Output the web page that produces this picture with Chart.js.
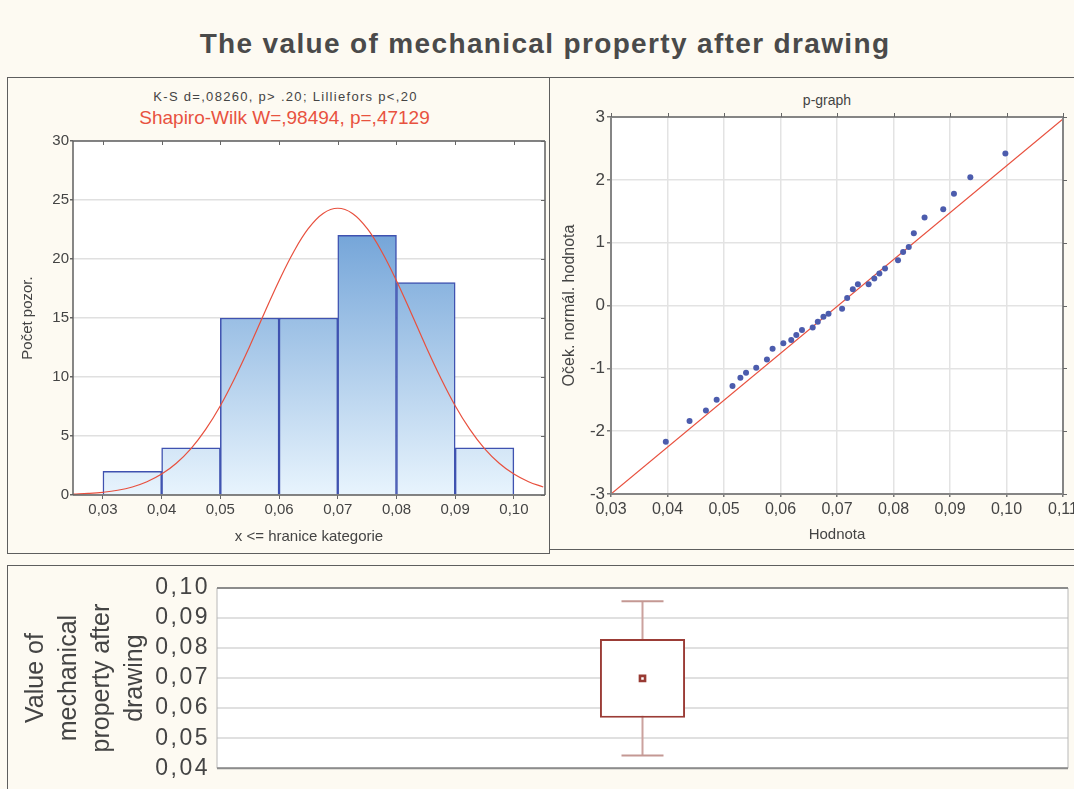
<!DOCTYPE html>
<html>
<head>
<meta charset="utf-8">
<title>The value of mechanical property after drawing</title>
<script src="https://cdn.jsdelivr.net/npm/chart.js@4.4.1/dist/chart.umd.min.js"></script>
<style>
html, body { margin: 0; padding: 0; background: #fdfaf2; }
#page { position: relative; width: 1074px; height: 789px; overflow: hidden; background: #fdfaf2;
        font-family: 'Liberation Sans', Arial, sans-serif; color: #444; }
.panel { position: absolute; border: 1px solid #5e5e5e; box-sizing: border-box; }
canvas { position: absolute; }
.txt { position: absolute; text-align: center; white-space: nowrap; }
</style>
</head>
<body>
<div id="page">
  <div class="txt" style="left:8px;top:28px;width:1074px;font-weight:bold;font-size:28px;line-height:32px;letter-spacing:1.35px;color:#4a4a4a">The value of mechanical property after drawing</div>

  <div class="panel" style="left:7px;top:77px;width:543px;height:477px"></div>
  <div class="panel" style="left:549px;top:77px;width:540px;height:473px"></div>
  <div class="panel" style="left:7px;top:565px;width:1080px;height:240px"></div>

  <div class="txt" style="left:8px;top:89px;width:555px;font-size:13px;line-height:16px;letter-spacing:1.3px;color:#444">K-S d=,08260, p&gt; .20; Lilliefors p&lt;,20</div>
  <div class="txt" style="left:8px;top:107px;width:553px;font-size:19px;line-height:22px;color:#e8523f">Shapiro-Wilk W=,98494, p=,47129</div>
  <div class="txt" style="left:737px;top:92px;width:180px;font-size:14px;line-height:16px;color:#444">p-graph</div>

  <canvas id="hist" width="540" height="474" style="left:8px;top:78px"></canvas>
  <canvas id="pgraph" width="540" height="471" style="left:550px;top:78px"></canvas>
  <canvas id="box" width="1066" height="223" style="left:8px;top:566px"></canvas>
</div>
<script>
// histogram: category bounds and counts
const binEdges = [0.03, 0.04, 0.05, 0.06, 0.07, 0.08, 0.09, 0.10];
const binCounts = [2, 4, 15, 15, 22, 18, 4];

// fitted normal curve
const curveX = [0.025, 0.0275, 0.03, 0.0325, 0.035, 0.0375, 0.04, 0.0425, 0.045, 0.0475,
                0.05, 0.0525, 0.055, 0.0575, 0.06, 0.0625, 0.065, 0.0675, 0.07, 0.0725,
                0.075, 0.0775, 0.08, 0.0825, 0.085, 0.0875, 0.09, 0.0925, 0.095, 0.0975,
                0.10, 0.1025, 0.105];
const curveY = [0.07, 0.13, 0.23, 0.40, 0.68, 1.12, 1.77, 2.69, 3.93, 5.56,
                7.57, 9.96, 12.61, 15.42, 18.16, 20.62, 22.59, 23.86, 24.30, 23.86,
                22.59, 20.62, 18.16, 15.42, 12.61, 9.96, 7.57, 5.56, 3.93, 2.69,
                1.77, 1.12, 0.68];

// p-graph points
const probX = [0.0397, 0.0439, 0.0468, 0.0487, 0.0515, 0.0529, 0.0539, 0.0557, 0.0576, 0.0586,
               0.0605, 0.0619, 0.0628, 0.0638, 0.0657, 0.0666, 0.0676, 0.0685, 0.0709, 0.0718,
               0.0728, 0.0737, 0.0756, 0.0766, 0.0775, 0.0785, 0.0808, 0.0817, 0.0827, 0.0836,
               0.0855, 0.0888, 0.0907, 0.0936, 0.0998];
const probY = [-2.17, -1.84, -1.67, -1.50, -1.28, -1.15, -1.07, -0.99, -0.86, -0.69,
               -0.60, -0.55, -0.47, -0.39, -0.35, -0.26, -0.18, -0.13, -0.05, 0.12,
               0.26, 0.34, 0.34, 0.43, 0.51, 0.59, 0.72, 0.85, 0.93, 1.15,
               1.40, 1.53, 1.78, 2.04, 2.42];
const refLineX = [0.03, 0.11];
const refLineY = [-3.0, 2.97];

// box plot: mean, mean +- SD, mean +- 1.96 SD
const boxLabels = ['Value of mechanical property after drawing'];
const boxMean = [0.0699];
const boxLow = [0.0568];
const boxHigh = [0.0830];
const whiskLow = [0.0442];
const whiskHigh = [0.0956];

Chart.defaults.font.family = "'Liberation Sans', Arial, sans-serif";
Chart.defaults.color = '#444';

const comma = v => Number(v).toFixed(2).replace('.', ',');

// white plot area, frame, mirrored ticks, spaced tick labels
const panelPlugin = {
    id: 'panel',
    beforeDraw(chart, args, opts) {
        const {ctx, chartArea: a} = chart;
        ctx.letterSpacing = '0px';
        ctx.save();
        ctx.fillStyle = '#ffffff';
        ctx.fillRect(a.left, a.top, a.right - a.left, a.bottom - a.top);
        ctx.restore();
    },
    afterDatasetsDraw(chart, args, opts) {
        // tick labels with z > 0 are drawn after this point
        chart.ctx.letterSpacing = opts.spacing || '0px';
    },
    afterDraw(chart, args, opts) {
        const {ctx, chartArea: a} = chart;
        ctx.letterSpacing = '0px';
        ctx.save();
        ctx.strokeStyle = opts.sideColor || opts.color;
        ctx.lineWidth = opts.sideWidth || opts.width;
        ctx.beginPath();
        ctx.moveTo(a.left, a.top); ctx.lineTo(a.left, a.bottom);
        ctx.moveTo(a.right, a.top); ctx.lineTo(a.right, a.bottom);
        ctx.stroke();
        ctx.strokeStyle = opts.color;
        ctx.lineWidth = opts.width;
        ctx.beginPath();
        ctx.moveTo(a.left, a.top); ctx.lineTo(a.right, a.top);
        ctx.moveTo(a.left, a.bottom); ctx.lineTo(a.right, a.bottom);
        ctx.stroke();
        if (opts.mirrorTicks) {
            const d = opts.mirrorTicks;
            ctx.lineWidth = 1;
            ctx.strokeStyle = '#666';
            const xs = chart.scales.x, ys = chart.scales.y;
            ctx.beginPath();
            xs.ticks.forEach(t => {
                const px = Math.round(xs.getPixelForValue(t.value)) + 0.5;
                ctx.moveTo(px, a.top); ctx.lineTo(px, a.top + d);
            });
            ys.ticks.forEach(t => {
                const py = Math.round(ys.getPixelForValue(t.value)) + 0.5;
                ctx.moveTo(a.right, py); ctx.lineTo(a.right - d, py);
            });
            ctx.stroke();
        }
        ctx.restore();
    }
};

function histFill(context) {
    const area = context.chart.chartArea;
    if (!area) return '#9dc3e8';
    const g = context.chart.ctx.createLinearGradient(0, area.top, 0, area.bottom);
    g.addColorStop(0, '#6a9ad1');
    g.addColorStop(0.27, '#76a6d9');
    g.addColorStop(1, '#e8f4fd');
    return g;
}

const histChart = new Chart(document.getElementById('hist'), {
    data: {
        datasets: [{
            type: 'line',
            data: curveX.map((x, i) => ({x: x, y: curveY[i]})),
            borderColor: '#e8503e',
            borderWidth: 1.2,
            pointRadius: 0,
            tension: 0.4,
            order: 0
        }, {
            type: 'bar',
            data: binCounts.map((c, i) => ({x: (binEdges[i] + binEdges[i + 1]) / 2, y: c})),
            backgroundColor: histFill,
            borderColor: '#3f52b0',
            borderWidth: 1.5,
            barPercentage: 1,
            categoryPercentage: 1,
            order: 1
        }]
    },
    options: {
        responsive: false,
        animation: false,
        layout: { autoPadding: false, padding: { left: 0, right: 3, top: 63, bottom: 0 } },
        plugins: {
            legend: { display: false },
            tooltip: { enabled: false },
            panel: { color: '#606060', width: 1.5, mirrorTicks: 4 }
        },
        scales: {
            x: {
                type: 'linear',
                offset: false,
                min: 0.0249,
                max: 0.1053,
                ticks: { stepSize: 0.01, includeBounds: false, callback: comma, font: { size: 15 }, padding: 2, maxRotation: 0 },
                grid: { drawOnChartArea: false, offset: false, tickLength: 4, tickColor: '#666' },
                border: { display: false },
                title: { display: true, text: 'x <= hranice kategorie', font: { size: 15 }, padding: { top: 0, bottom: 6 } },
                afterFit: s => { s.height = 57; }
            },
            y: {
                min: 0,
                max: 30,
                ticks: { stepSize: 5, font: { size: 15 }, padding: 1 },
                grid: { color: '#e0e0e0', lineWidth: 1.5, tickLength: 3, tickColor: '#666' },
                border: { display: false },
                title: { display: true, text: 'Počet pozor.', font: { size: 15 }, padding: { top: 11, bottom: 0 } },
                afterFit: s => { s.width = 65; }
            }
        }
    },
    plugins: [panelPlugin]
});

const pChart = new Chart(document.getElementById('pgraph'), {
    data: {
        datasets: [{
            type: 'scatter',
            data: probX.map((x, i) => ({x: x, y: probY[i]})),
            backgroundColor: '#4c5cad',
            borderWidth: 0,
            pointRadius: 3,
            order: 0
        }, {
            type: 'line',
            data: refLineX.map((x, i) => ({x: x, y: refLineY[i]})),
            borderColor: '#e8503e',
            borderWidth: 1.2,
            pointRadius: 0,
            order: 1
        }]
    },
    options: {
        responsive: false,
        animation: false,
        layout: { autoPadding: false, padding: { left: 0, right: 27, top: 39, bottom: 0 } },
        plugins: {
            legend: { display: false },
            tooltip: { enabled: false },
            panel: { color: '#858585', width: 2, mirrorTicks: -4 }
        },
        scales: {
            x: {
                type: 'linear',
                min: 0.03,
                max: 0.11,
                ticks: { stepSize: 0.01, callback: comma, font: { size: 16 }, padding: 3, maxRotation: 0 },
                grid: { color: '#e3e3e3', lineWidth: 1.5, tickLength: 3, tickColor: '#777' },
                border: { display: false },
                title: { display: true, text: 'Hodnota', font: { size: 15 }, padding: { top: 0, bottom: 5 } },
                afterFit: s => { s.height = 55; }
            },
            y: {
                type: 'linear',
                min: -3,
                max: 3,
                ticks: { stepSize: 1, font: { size: 17 }, padding: 2 },
                grid: { color: '#e3e3e3', lineWidth: 1.5, tickLength: 4, tickColor: '#777' },
                border: { display: false },
                title: { display: true, text: 'Oček. normál. hodnota', font: { size: 16 }, padding: { top: 10, bottom: 0 } },
                afterFit: s => { s.width = 61; }
            }
        }
    },
    plugins: [panelPlugin]
});

const boxChart = new Chart(document.getElementById('box'), {
    data: {
        labels: boxLabels,
        datasets: [{
            type: 'line',
            data: boxMean,
            showLine: false,
            pointStyle: 'rect',
            pointRadius: 3.6,
            borderColor: '#983a33',
            borderWidth: 2.6,
            backgroundColor: '#ffffff',
            order: 0
        }, {
            type: 'bar',
            data: boxLow.map((v, i) => [v, boxHigh[i]]),
            backgroundColor: '#ffffff',
            borderColor: '#9b3c36',
            borderWidth: 2,
            borderSkipped: false,
            barPercentage: 0.1,
            categoryPercentage: 1,
            order: 1
        }, {
            type: 'line',
            data: [{x: boxLabels[0], y: whiskLow[0]}, {x: boxLabels[0], y: whiskHigh[0]}],
            borderColor: '#cba29e',
            borderWidth: 2,
            pointStyle: 'line',
            pointRadius: 21,
            pointBorderColor: '#c49893',
            pointBorderWidth: 2,
            order: 2
        }]
    },
    options: {
        responsive: false,
        animation: false,
        layout: { autoPadding: false, padding: { left: 0, right: 6, top: 22, bottom: 19 } },
        plugins: {
            legend: { display: false },
            tooltip: { enabled: false },
            panel: { color: '#8c8c8c', width: 2, sideColor: '#b8b8b8', sideWidth: 1, spacing: '2.5px' }
        },
        scales: {
            x: { type: 'category', display: false },
            y: {
                min: 0.04,
                max: 0.10,
                ticks: { stepSize: 0.01, autoSkip: false, z: 1, callback: comma, font: { size: 23 }, padding: 7 },
                grid: { color: '#e0e0e0', lineWidth: 2, drawTicks: false },
                border: { display: false },
                title: {
                    display: true,
                    text: ['Value of', 'mechanical', 'property after', 'drawing'],
                    font: { size: 25, lineHeight: 1.32 },
                    padding: { top: 12, bottom: 0 }
                },
                afterFit: s => { s.width = 209; }
            }
        }
    },
    plugins: [panelPlugin]
});
</script>
</body>
</html>
